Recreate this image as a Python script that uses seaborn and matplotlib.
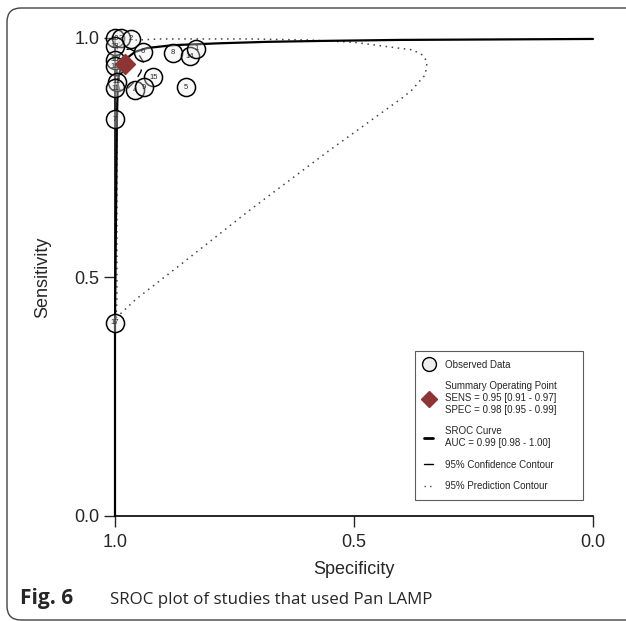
"""
SROC plot of studies that used Pan LAMP
"""

import numpy as np
import pandas as pd
import matplotlib

matplotlib.use("Agg")
import matplotlib.pyplot as plt
from matplotlib.lines import Line2D
from matplotlib.patches import FancyBboxPatch
import seaborn as sns

# Observed studies
study_labels = ["10", "3", "2", "13", "6", "8", "14", "1", "16",
                "18", "15", "5", "4", "9", "12", "11", "7", "17"]
study_spec = [1.000, 0.987, 0.967, 1.000, 0.941, 0.879, 0.843, 0.830, 1.000,
              1.000, 0.920, 0.851, 0.958, 0.939, 0.996, 1.000, 1.000, 1.000]
study_sens = [1.000, 1.000, 0.998, 0.983, 0.971, 0.969, 0.962, 0.977, 0.954,
              0.941, 0.918, 0.897, 0.891, 0.897, 0.908, 0.895, 0.830, 0.404]

# Summary operating point
summary_spec = 0.98
summary_sens = 0.946

# SROC curve
sroc_spec = [1.000, 1.000, 0.996, 0.994, 0.987, 0.975, 0.958, 0.933,
             0.879, 0.780, 0.680, 0.560, 0.404, 0.200, 0.000]
sroc_sens = [0.000, 0.404, 0.830, 0.912, 0.941, 0.958, 0.971, 0.979,
             0.985, 0.989, 0.992, 0.994, 0.996, 0.997, 0.998]

# 95% confidence contour
conf_spec = [0.994, 0.985, 0.969, 0.952, 0.941, 0.946, 0.958, 0.975,
             0.990, 0.996, 0.996, 0.994]
conf_sens = [0.954, 0.975, 0.977, 0.969, 0.950, 0.929, 0.910, 0.893,
             0.891, 0.912, 0.933, 0.954]

# 95% prediction contour
pred_spec = [0.998, 0.996, 0.996, 0.996, 0.996, 0.990, 0.906, 0.718, 0.600,
             0.500, 0.446, 0.377, 0.356, 0.347, 0.351, 0.366, 0.379, 0.400,
             0.550, 0.718, 0.864, 0.958, 0.998]
pred_sens = [0.414, 0.452, 0.661, 0.870, 0.975, 0.994, 0.998, 0.998, 0.996,
             0.991, 0.984, 0.975, 0.964, 0.950, 0.923, 0.906, 0.891, 0.874,
             0.766, 0.640, 0.525, 0.452, 0.414]

legend_labels = [
    "Observed Data",
    "Summary Operating Point\nSENS = 0.95 [0.91 - 0.97]\nSPEC = 0.98 [0.95 - 0.99]",
    "SROC Curve\nAUC = 0.99 [0.98 - 1.00]",
    "95% Confidence Contour",
    "95% Prediction Contour",
]

DIAMOND_COLOR = "#8e3434"

sns.set_style("white")
plt.rcParams["font.family"] = ["Liberation Sans", "DejaVu Sans"]

W, H = 626, 621
fig = plt.figure(figsize=(W / 100, H / 100), dpi=100)
ax = fig.add_axes([115 / W, 1 - 516 / H, (593 - 115) / W, (516 - 38) / H])

studies = pd.DataFrame({"spec": study_spec, "sens": study_sens, "label": study_labels})
sroc = pd.DataFrame({"spec": sroc_spec, "sens": sroc_sens})
conf = pd.DataFrame({"spec": conf_spec, "sens": conf_sens})
pred = pd.DataFrame({"spec": pred_spec, "sens": pred_sens})

sns.lineplot(data=pred, x="spec", y="sens", sort=False, estimator=None, ax=ax,
             color="#444444", linewidth=1.1, linestyle=(0, (1, 3)), clip_on=False)
sns.lineplot(data=sroc, x="spec", y="sens", sort=False, estimator=None, ax=ax,
             color="black", linewidth=1.6, clip_on=False)
sns.lineplot(data=conf, x="spec", y="sens", sort=False, estimator=None, ax=ax,
             color="black", linewidth=1.0, linestyle=(0, (6, 5)), clip_on=False)

sns.scatterplot(data=studies, x="spec", y="sens", ax=ax, s=170, marker="o",
                facecolor=(0.93, 0.93, 0.93, 0.35), edgecolor="black",
                linewidth=1.1, clip_on=False, zorder=4)
for _, row in studies.iterrows():
    ax.text(row["spec"], row["sens"], row["label"], fontsize=5.5, ha="center",
            va="center", zorder=5)

ax.plot([summary_spec], [summary_sens], marker="D", markersize=10.5,
        color=DIAMOND_COLOR, linestyle="none", zorder=6, clip_on=False)

ax.set_xlim(1, 0)
ax.set_ylim(0, 1)
ax.set_xticks([1.0, 0.5, 0.0])
ax.set_xticklabels(["1.0", "0.5", "0.0"])
ax.set_yticks([0.0, 0.5, 1.0])
ax.set_yticklabels(["0.0", "0.5", "1.0"])
ax.tick_params(axis="both", direction="out", length=8, width=1, labelsize=13,
               pad=3, bottom=True, left=True)
ax.tick_params(axis="x", pad=5)
ax.set_xlabel("Specificity", fontsize=13, labelpad=7)
ax.set_ylabel("Sensitivity", fontsize=13, labelpad=17)
sns.despine(ax=ax)
for side in ["left", "bottom"]:
    ax.spines[side].set_linewidth(1.2)
    ax.spines[side].set_color("black")
ax.patch.set_alpha(0)

handles = [
    Line2D([], [], marker="o", markersize=10, markerfacecolor="#eeeeee",
           markeredgecolor="black", linestyle="none"),
    Line2D([], [], marker="D", markersize=8.5, color=DIAMOND_COLOR, linestyle="none"),
    Line2D([], [], color="black", linewidth=2),
    Line2D([], [], color="black", linewidth=1),
    Line2D([], [], color="#444444", linewidth=1, linestyle=(0, (1, 3))),
]
leg = ax.legend(handles, legend_labels, loc="lower left",
                bbox_to_anchor=((415 - 115) / 478, (516 - 500) / 478,
                                (583 - 415) / 478, (500 - 350) / 478),
                mode="expand", fontsize=7, frameon=True, fancybox=False,
                handlelength=1.0, handletextpad=1.2, labelspacing=1.2,
                borderpad=0.9, borderaxespad=0)
leg.get_frame().set_edgecolor("#333333")
leg.get_frame().set_linewidth(0.8)

# rounded figure frame
frame = FancyBboxPatch((7, 1), 660, 612, boxstyle="round,pad=0,rounding_size=14",
                       transform=None, facecolor="none", edgecolor="#444444",
                       linewidth=1.0)
fig.patches.append(frame)

cap_font = ["Open Sans", "DejaVu Sans"]
fig.text(20 / W, 1 - 604 / H, "Fig. 6", fontsize=15, fontweight="bold",
         family=cap_font, ha="left", va="baseline")
fig.text(110 / W, 1 - 604 / H, "SROC plot of studies that used Pan LAMP",
         fontsize=12.2, family=cap_font, ha="left", va="baseline")

fig.savefig("out.png", dpi=100)
